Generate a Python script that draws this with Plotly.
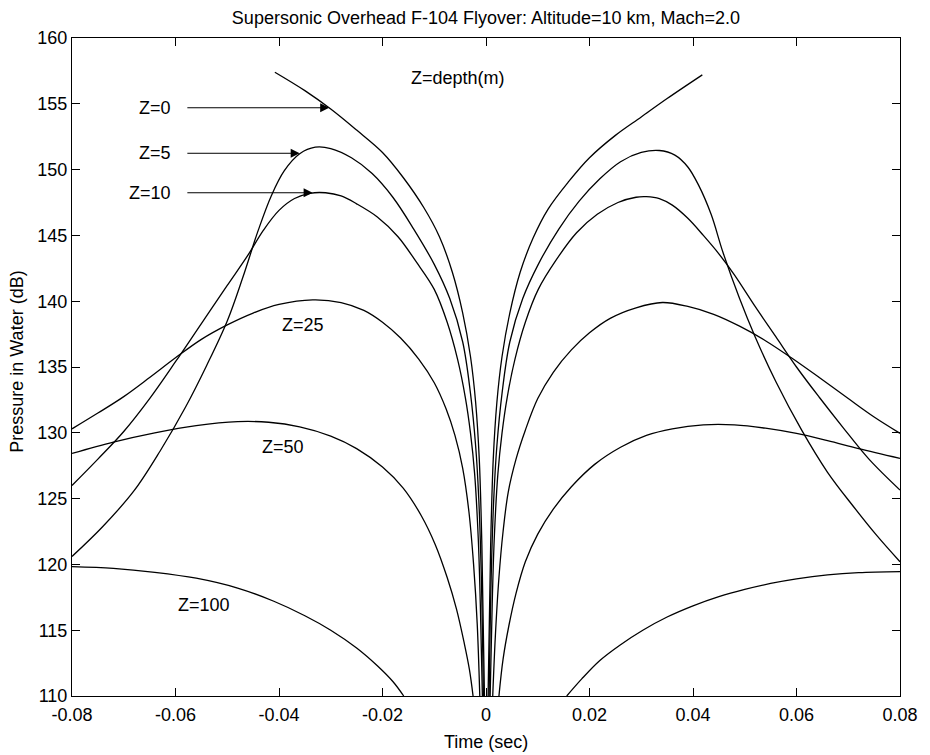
import plotly.graph_objects as go

# ---- data (time in s, pressure in dB) ----
z0_left_t = [-0.0408, -0.0350, -0.0300, -0.0250, -0.0200, -0.0160, -0.0120, -0.0090,
             -0.0065, -0.0045, -0.0030, -0.0020, -0.0013, -0.0008, -0.0003]
z0_left_db = [157.4, 156.0, 154.6, 153.0, 151.3, 149.4, 147.1, 144.9,
              142.2, 139.1, 135.8, 132.3, 128.0, 121.5, 110.0]
z0_right_t = [0.0004, 0.0009, 0.0014, 0.0021, 0.0031, 0.0046, 0.0066, 0.0091,
              0.0120, 0.0160, 0.0200, 0.0250, 0.0300, 0.0350, 0.0418]
z0_right_db = [110.0, 121.5, 128.0, 132.3, 135.8, 139.1, 142.2, 144.8,
               147.0, 149.1, 150.9, 152.6, 154.0, 155.4, 157.2]

z5_left_t = [-0.0800, -0.0740, -0.0680, -0.0630, -0.0580, -0.0540, -0.0500, -0.0470,
             -0.0440, -0.0415, -0.0390, -0.0360, -0.0330, -0.0300, -0.0260, -0.0220,
             -0.0180, -0.0140, -0.0100, -0.0070, -0.0045, -0.0030, -0.0020, -0.0014,
             -0.0009, -0.0005]
z5_left_db = [120.6, 122.9, 125.6, 128.6, 132.0, 135.1, 138.5, 141.8,
              145.4, 148.0, 149.9, 151.2, 151.7, 151.6, 150.9, 149.7,
              147.9, 145.5, 142.8, 140.2, 136.9, 133.0, 129.0, 125.0,
              119.0, 110.0]
z5_right_t = [0.0006, 0.0010, 0.0015, 0.0021, 0.0031, 0.0046, 0.0071, 0.0101,
              0.0141, 0.0180, 0.0220, 0.0260, 0.0300, 0.0335, 0.0365, 0.0390,
              0.0411, 0.0435, 0.0458, 0.0490, 0.0520, 0.0560, 0.0610, 0.0660,
              0.0710, 0.0755, 0.0800]
z5_right_db = [110.0, 119.0, 125.0, 129.0, 133.0, 136.9, 140.2, 142.8,
               145.5, 147.6, 149.3, 150.6, 151.3, 151.45, 151.1, 150.2,
               148.8, 146.6, 143.7, 140.2, 137.3, 133.9, 130.2, 127.0,
               124.4, 122.2, 120.2]

z10_left_t = [-0.0800, -0.0750, -0.0700, -0.0650, -0.0600, -0.0550, -0.0500, -0.0460,
              -0.0430, -0.0400, -0.0370, -0.0340, -0.0310, -0.0280, -0.0250, -0.0210,
              -0.0170, -0.0135, -0.0100, -0.0075, -0.0055, -0.0040, -0.0030, -0.0022,
              -0.0015, -0.0011, -0.0007]
z10_left_db = [126.0, 128.0, 130.1, 132.6, 135.4, 138.3, 141.2, 143.5,
               145.4, 146.9, 147.8, 148.2, 148.24, 148.0, 147.4, 146.4,
               144.9, 143.0, 140.9, 138.4, 135.6, 132.7, 130.0, 126.9,
               122.0, 117.0, 110.0]
z10_right_t = [0.0008, 0.0012, 0.0016, 0.0023, 0.0031, 0.0041, 0.0056, 0.0076,
               0.0101, 0.0135, 0.0175, 0.0215, 0.0255, 0.0290, 0.0310, 0.0335,
               0.0360, 0.0390, 0.0420, 0.0450, 0.0480, 0.0520, 0.0560, 0.0600,
               0.0644, 0.0690, 0.0740, 0.0800]
z10_right_db = [110.0, 117.0, 122.0, 126.9, 130.0, 132.7, 135.6, 138.4,
                140.9, 143.1, 145.2, 146.6, 147.5, 147.9, 147.94, 147.8,
                147.3, 146.3, 145.0, 143.6, 142.0, 139.6, 137.3, 135.0,
                132.7, 130.4, 128.0, 125.65]

z25_left_t = [-0.0800, -0.0750, -0.0700, -0.0650, -0.0600, -0.0550, -0.0500, -0.0450,
              -0.0400, -0.0335, -0.0280, -0.0236, -0.0200, -0.0165, -0.0130, -0.0100,
              -0.0077, -0.0060, -0.0045, -0.0033, -0.0024, -0.0017, -0.0012]
z25_left_db = [130.3, 131.5, 132.75, 134.2, 135.7, 137.1, 138.2, 139.1,
               139.75, 140.1, 139.9, 139.3, 138.4, 137.2, 135.6, 133.8,
               131.8, 129.8, 127.3, 124.0, 120.0, 115.5, 110.0]
z25_right_t = [0.0013, 0.0018, 0.0025, 0.0033, 0.0043, 0.0058, 0.0076, 0.0100,
               0.0130, 0.0165, 0.0200, 0.0240, 0.0290, 0.0341, 0.0390, 0.0440,
               0.0490, 0.0540, 0.0590, 0.0644, 0.0700, 0.0750, 0.0800]
z25_right_db = [110.0, 114.5, 119.0, 122.5, 125.5, 128.0, 130.2, 132.6,
                134.6, 136.3, 137.6, 138.7, 139.5, 139.9, 139.6, 139.0,
                138.1, 137.0, 135.7, 134.2, 132.6, 131.2, 129.96]

z50_left_t = [-0.0800, -0.0720, -0.0640, -0.0560, -0.0480, -0.0420, -0.0360, -0.0300,
              -0.0250, -0.0200, -0.0160, -0.0125, -0.0098, -0.0075, -0.0057, -0.0042,
              -0.0032, -0.0025]
z50_left_db = [128.44, 129.3, 130.0, 130.55, 130.85, 130.8, 130.45, 129.75,
               128.8, 127.4, 125.8, 123.7, 121.5, 119.0, 116.6, 114.0,
               112.0, 110.0]
z50_right_t = [0.0025, 0.0033, 0.0044, 0.0058, 0.0076, 0.0100, 0.0130, 0.0165,
               0.0210, 0.0260, 0.0310, 0.0360, 0.0420, 0.0480, 0.0540, 0.0600,
               0.0660, 0.0720, 0.0800]
z50_right_db = [110.0, 112.8, 115.3, 117.8, 120.2, 122.3, 124.2, 125.9,
                127.6, 128.9, 129.8, 130.3, 130.6, 130.6, 130.35, 129.95,
                129.4, 128.8, 128.06]

z100_left_t = [-0.0800, -0.0720, -0.0640, -0.0560, -0.0480, -0.0410, -0.0350, -0.0300,
               -0.0250, -0.0210, -0.0180, -0.0159]
z100_left_db = [119.83, 119.7, 119.4, 118.95, 118.2, 117.2, 116.1, 115.0,
                113.65, 112.3, 111.1, 110.0]
z100_right_t = [0.0156, 0.0185, 0.0220, 0.0260, 0.0303, 0.0350, 0.0400, 0.0450,
                0.0500, 0.0550, 0.0600, 0.0660, 0.0720, 0.0800]
z100_right_db = [110.0, 111.3, 112.7, 113.9, 115.0, 116.0, 116.85, 117.55,
                 118.1, 118.55, 118.9, 119.2, 119.37, 119.45]

x_ticks = [-0.08, -0.06, -0.04, -0.02, 0, 0.02, 0.04, 0.06, 0.08]
x_tick_labels = ["-0.08", "-0.06", "-0.04", "-0.02", "0", "0.02", "0.04", "0.06", "0.08"]
y_ticks = [110, 115, 120, 125, 130, 135, 140, 145, 150, 155, 160]

curve_labels = ["Z=0", "Z=5", "Z=10"]
arrow_label_db = [154.7, 151.24, 148.24]
arrow_tip_t = [-0.0303, -0.0360, -0.0335]
arrow_tail_t = -0.058
text_labels = ["Z=25", "Z=50", "Z=100"]
text_label_t = [-0.0354, -0.0393, -0.0545]
text_label_db = [138.2, 128.94, 116.9]

FONT = "Liberation Sans, Arial, sans-serif"
FS = 18

fig = go.Figure()
series = [
    (z0_left_t, z0_left_db), (z0_right_t, z0_right_db),
    (z5_left_t, z5_left_db), (z5_right_t, z5_right_db),
    (z10_left_t, z10_left_db), (z10_right_t, z10_right_db),
    (z25_left_t, z25_left_db), (z25_right_t, z25_right_db),
    (z50_left_t, z50_left_db), (z50_right_t, z50_right_db),
    (z100_left_t, z100_left_db), (z100_right_t, z100_right_db),
]
for tx, dy in series:
    fig.add_trace(go.Scatter(x=tx, y=dy, mode="lines",
                             line=dict(color="black", width=1.3, shape="spline", smoothing=1.0),
                             showlegend=False, hoverinfo="skip"))

annotations = []
for lab, dbv, tip in zip(curve_labels, arrow_label_db, arrow_tip_t):
    annotations.append(dict(x=tip, y=dbv, ax=arrow_tail_t, ay=dbv, xref="x", yref="y",
                            axref="x", ayref="y", text="", showarrow=True,
                            arrowhead=2, arrowsize=1.8, arrowwidth=1, arrowcolor="black"))
    annotations.append(dict(x=-0.0605, y=dbv, xref="x", yref="y", text=lab, showarrow=False,
                            xanchor="right", yanchor="middle",
                            font=dict(family=FONT, size=FS, color="black")))
for lab, tv, dbv in zip(text_labels, text_label_t, text_label_db):
    annotations.append(dict(x=tv, y=dbv, xref="x", yref="y", text=lab, showarrow=False,
                            xanchor="center", yanchor="middle",
                            font=dict(family=FONT, size=FS, color="black")))
annotations.append(dict(x=-0.0055, y=156.96, xref="x", yref="y", text="Z=depth(m)",
                        showarrow=False, xanchor="center", yanchor="middle",
                        font=dict(family=FONT, size=FS, color="black")))
annotations.append(dict(x=0.5, y=0, xref="paper", yref="paper", text="Time (sec)",
                        showarrow=False, xanchor="center", yanchor="middle", yshift=-46,
                        font=dict(family=FONT, size=FS, color="black")))
annotations.append(dict(x=0, y=0.508, xref="paper", yref="paper", text="Pressure in Water (dB)",
                        showarrow=False, xanchor="center", yanchor="middle", xshift=-55,
                        textangle=-90, font=dict(family=FONT, size=FS, color="black")))

axis_common = dict(showline=True, linecolor="black", linewidth=1, mirror="ticks",
                   ticks="inside", ticklen=8, tickcolor="black", tickwidth=1,
                   showgrid=False, zeroline=False,
                   tickfont=dict(family=FONT, size=FS, color="black"))

fig.update_layout(
    width=930, height=755,
    margin=dict(l=72, r=22, t=38, b=59),
    paper_bgcolor="white", plot_bgcolor="white",
    title=dict(text="Supersonic Overhead F-104 Flyover: Altitude=10 km, Mach=2.0",
               x=0.5, xref="paper", y=1 - 18 / 755, yref="container", yanchor="middle",
               xanchor="center", font=dict(family=FONT, size=FS, color="black")),
    xaxis=dict(range=[-0.08, 0.08], tickvals=x_ticks, ticktext=x_tick_labels,
               ticklabelstandoff=2, **axis_common),
    yaxis=dict(range=[110, 160], tickvals=y_ticks, **axis_common),
    annotations=annotations,
)

fig.write_html("out.html")
